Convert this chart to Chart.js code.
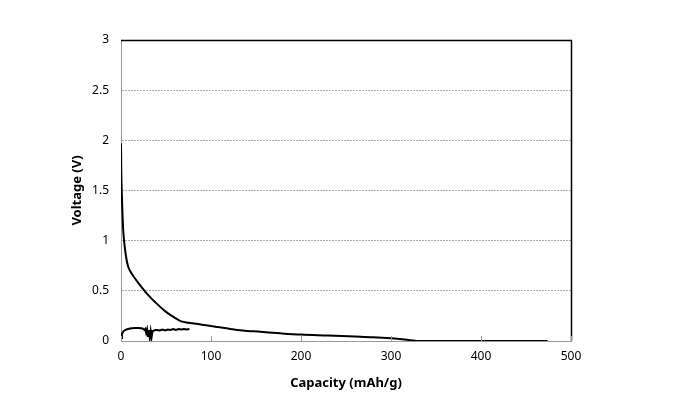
<!DOCTYPE html>
<html>
<head>
<meta charset="utf-8">
<script src="https://cdn.jsdelivr.net/npm/chart.js@4"></script>
<style>
  html, body { margin: 0; padding: 0; background: #fff; }
  #box { width: 674px; height: 403px; }
</style>
</head>
<body>
<div id="box"><canvas id="myChart"></canvas></div>
<script>
"use strict"

// discharge curve (voltage falls from ~2 V)
const dischargeCap = [0, 0.3, 0.8, 1.5, 2.5, 4, 6, 8, 10, 15, 20, 30, 40, 50, 60, 67, 75, 90, 105, 120, 135, 155, 177, 200, 230, 260, 280, 300, 315, 325, 330, 400, 474]
const dischargeV = [1.97, 1.7, 1.5, 1.3, 1.1, 0.95, 0.82, 0.74, 0.70, 0.63, 0.57, 0.46, 0.37, 0.29, 0.23, 0.195, 0.182, 0.163, 0.142, 0.122, 0.105, 0.092, 0.077, 0.064, 0.055, 0.045, 0.038, 0.027, 0.015, 0.005, 0, 0, 0]

// charge curve (noisy, near 0.1 V)
const chargeCap = [0, 1, 3, 6, 10, 15, 20, 24, 26, 27, 28, 29, 30, 31, 32, 33, 34, 35, 36, 38, 40, 43, 46, 49, 52, 55, 58, 61, 64, 67, 70, 73, 76]
const chargeV = [0.03, 0.07, 0.10, 0.115, 0.125, 0.13, 0.13, 0.125, 0.11, 0.12, 0.08, 0.115, 0.05, 0.11, 0.03, 0.10, 0.04, 0.10, 0.10, 0.11, 0.11, 0.105, 0.115, 0.105, 0.115, 0.11, 0.12, 0.11, 0.12, 0.115, 0.12, 0.115, 0.12]

const xTicks = [0, 100, 200, 300, 400, 500]

function toPoints(xs, ys) {
    return xs.map((x, i) => ({ x: x, y: ys[i] }))
}

// frame: black top/right edges + small inward x ticks
const framePlugin = {
    id: 'frame',
    afterDraw(chart) {
        const { ctx, chartArea: a, scales } = chart
        ctx.save()
        ctx.strokeStyle = '#000'
        ctx.lineWidth = 1.5
        ctx.beginPath()
        ctx.moveTo(a.left, a.top + 0.5)
        ctx.lineTo(a.right + 0.5, a.top + 0.5)
        ctx.lineTo(a.right + 0.5, a.bottom)
        ctx.stroke()
        ctx.strokeStyle = '#999'
        ctx.lineWidth = 1
        xTicks.forEach(v => {
            const px = Math.round(scales.x.getPixelForValue(v)) + 0.5
            ctx.beginPath()
            ctx.moveTo(px, a.bottom)
            ctx.lineTo(px, a.bottom - 5)
            ctx.stroke()
        })
        ctx.restore()
    }
}

const font = { family: 'Noto Sans', size: 12 }
const titleFont = { family: 'Noto Sans', size: 13, weight: 'bold' }

const ctx = document.getElementById('myChart').getContext('2d')
const chart = new Chart(ctx, {
    type: 'line',
    data: {
        datasets: [
            {
                data: toPoints(dischargeCap, dischargeV),
                borderColor: '#000',
                borderWidth: 2,
                pointRadius: 0,
                cubicInterpolationMode: 'monotone',
                fill: false,
            },
            {
                data: toPoints(chargeCap, chargeV),
                borderColor: '#000',
                borderWidth: 2,
                pointRadius: 0,
                tension: 0,
                fill: false,
            }
        ]
    },
    options: {
        responsive: true,
        maintainAspectRatio: false,
        animation: false,
        layout: { padding: { left: 67, top: 40, right: 103, bottom: 12 } },
        plugins: { legend: { display: false }, tooltip: { enabled: false } },
        scales: {
            x: {
                type: 'linear',
                min: 0,
                max: 500,
                afterBuildTicks: s => { s.ticks = xTicks.map(v => ({ value: v })) },
                grid: { drawOnChartArea: false, drawTicks: false },
                border: { color: '#999', width: 1 },
                ticks: { color: '#000', font: font, padding: 8 },
                title: { display: true, text: 'Capacity (mAh/g)', color: '#000', font: titleFont, padding: { top: 4, bottom: 0 } },
            },
            y: {
                min: 0,
                max: 3,
                afterFit: s => { s.width = 54 },
                grid: { color: '#aaa', drawTicks: false, lineWidth: 1 },
                border: { color: '#999', width: 1, dash: [2, 1] },
                ticks: { stepSize: 0.5, color: '#000', font: font, padding: 12, callback: v => String(v) },
                title: { display: true, text: 'Voltage (V)', color: '#000', font: titleFont, padding: 2 },
            }
        }
    },
    plugins: [framePlugin]
})
</script>
</body>
</html>
